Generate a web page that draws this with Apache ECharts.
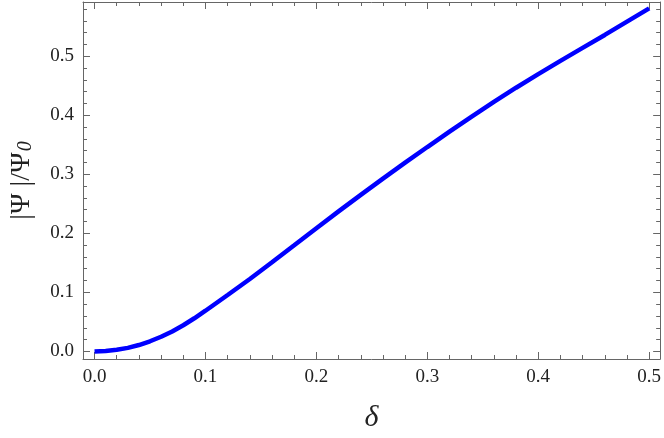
<!DOCTYPE html>
<html>
<head>
<meta charset="utf-8">
<script src="https://cdn.jsdelivr.net/npm/echarts@6/dist/echarts.min.js"></script>
<style>
  html, body { margin: 0; padding: 0; background: #fff; }
  #chart { width: 664px; height: 438px; }
</style>
</head>
<body>
<div id="chart"></div>
<script>
// δ values and |Ψ|/Ψ0
var deltaValues = [0, 0.01, 0.02, 0.03, 0.04, 0.05, 0.06, 0.07, 0.08, 0.09, 0.10,
  0.12, 0.14, 0.16, 0.18, 0.20, 0.22, 0.24, 0.26, 0.28, 0.30,
  0.32, 0.34, 0.36, 0.38, 0.40, 0.42, 0.44, 0.46, 0.48, 0.50];
var psiRatio = [0, 0.0007, 0.0027, 0.006, 0.0108, 0.0171, 0.0248, 0.0338, 0.0443, 0.0561, 0.0689,
  0.0955, 0.1227, 0.1509, 0.1797, 0.2087, 0.2372, 0.2652, 0.2927, 0.3197, 0.3462,
  0.3722, 0.3977, 0.4227, 0.4467, 0.4697, 0.4921, 0.5141, 0.5361, 0.5586, 0.581];

// tick positions
var xMajorTicks = [0, 0.1, 0.2, 0.3, 0.4, 0.5];
var xMinorTicks = [0.02, 0.04, 0.06, 0.08, 0.12, 0.14, 0.16, 0.18, 0.22, 0.24, 0.26, 0.28,
  0.32, 0.34, 0.36, 0.38, 0.42, 0.44, 0.46, 0.48];
var yMajorTicks = [0, 0.1, 0.2, 0.3, 0.4, 0.5];
var yMinorTicks = [0.02, 0.04, 0.06, 0.08, 0.12, 0.14, 0.16, 0.18, 0.22, 0.24, 0.26, 0.28,
  0.32, 0.34, 0.36, 0.38, 0.42, 0.44, 0.46, 0.48, 0.52, 0.54, 0.56, 0.58];

var xRange = [-0.0104, 0.5099];
var yRange = [-0.0129, 0.5919];

var frameColor = "#666";
var serif = "Liberation Serif";

function makeAxis(pos, range, ticks, len, withLine, withLabels, extra) {
  var ax = {
    type: "value",
    position: pos,
    min: range[0],
    max: range[1],
    splitLine: { show: false },
    axisLine: { show: withLine, onZero: false, lineStyle: { color: frameColor, width: 1 } },
    axisTick: { show: true, inside: true, length: len, customValues: ticks,
      lineStyle: { color: frameColor, width: 1 } },
    axisLabel: { show: withLabels, customValues: ticks, margin: 9,
      color: "#222", fontFamily: serif, fontSize: 19,
      formatter: function (v) { return v.toFixed(1); } }
  };
  return Object.assign(ax, extra || {});
}

var chart = echarts.init(document.getElementById("chart"));
chart.setOption({
  animation: false,
  grid: { left: 81, right: 1.5, top: 2, bottom: 76, containLabel: false },
  xAxis: [
    makeAxis("bottom", xRange, xMajorTicks, 7, true, true, {
      name: "δ",
      nameLocation: "middle",
      nameGap: 44,
      nameTextStyle: { fontFamily: serif, fontStyle: "italic", fontSize: 30, color: "#222" }
    }),
    makeAxis("bottom", xRange, xMinorTicks, 4, false, false),
    makeAxis("top", xRange, xMajorTicks, 7, true, false),
    makeAxis("top", xRange, xMinorTicks, 4, false, false)
  ],
  yAxis: [
    makeAxis("left", yRange, yMajorTicks, 7, true, true, {
      name: "|Ψ |/Ψ{sub|0}",
      nameLocation: "middle",
      nameGap: 47,
      nameRotate: 90,
      nameTextStyle: {
        fontFamily: serif, fontSize: 28, color: "#222",
        rich: {
          sub: { fontFamily: serif, fontStyle: "italic", fontSize: 20, color: "#222",
            verticalAlign: "bottom", padding: [0, 0, 0, 1] }
        }
      }
    }),
    makeAxis("left", yRange, yMinorTicks, 4, false, false),
    makeAxis("right", yRange, yMajorTicks, 7, true, false),
    makeAxis("right", yRange, yMinorTicks, 4, false, false)
  ],
  series: [{
    type: "line",
    xAxisIndex: 0,
    yAxisIndex: 0,
    data: deltaValues.map(function (d, i) { return [d, psiRatio[i]]; }),
    showSymbol: false,
    smooth: false,
    lineStyle: { color: "#0000ff", width: 4.5 }
  }]
});
</script>
</body>
</html>
